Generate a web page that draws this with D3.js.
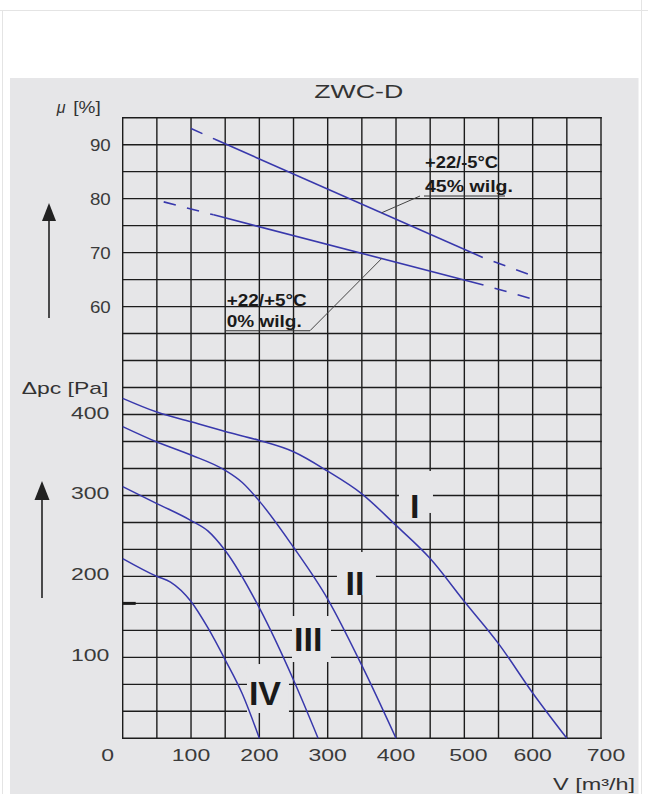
<!DOCTYPE html>
<html><head><meta charset="utf-8">
<script src="https://cdn.jsdelivr.net/npm/d3@7"></script>
<style>html,body{margin:0;padding:0;background:#fff;overflow:hidden}</style>
</head><body>
<svg id="c" width="648" height="794"></svg>
<script>
// ---------- data ----------
const chartTitle = "ZWC-D";
const flowTicks = [0, 100, 200, 300, 400, 500, 600, 700];
const muTicks = [60, 70, 80, 90];
const paTicks = [100, 200, 300, 400];
const curveNames = ["I", "II", "III", "IV"];

const curveIFlow = [0, 50, 100, 150, 200, 250, 300, 350, 400, 450, 500, 550, 600, 650];
const curveIPa   = [420, 403, 391, 379, 368, 354, 330, 302, 263, 222, 169, 117, 56, 0];
const curveIIFlow = [0, 50, 100, 150, 175, 200, 250, 300, 350, 400];
const curveIIPa   = [385, 366, 350, 331, 316, 293, 236, 172, 90, 0];
const curveIIIFlow = [0, 50, 100, 125, 150, 200, 250, 286];
const curveIIIPa   = [311, 290, 269, 256, 232, 161, 72, 0];
const curveIVFlow = [0, 50, 70, 100, 125, 150, 175, 200];
const curveIVPa   = [222, 200, 193, 169, 136, 97, 55, 0];

// efficiency lines (μ %) – vertices; segments between vertices are dashed / solid / dashed
const muWetFlow = [100, 135, 527, 600];
const muWet     = [93.0, 91.0, 69.1, 65.7];
const muDryFlow = [60, 133, 528, 600];
const muDry     = [79.4, 77.0, 64.0, 61.4];
const muSegStyle = ["dashed", "solid", "dashed"];

const noteWet = ["+22/-5°C", "45% wilg."];
const noteDry = ["+22/+5°C", "0% wilg."];

// ---------- layout ----------
const svg = d3.select("#c");
const FONT = "'Liberation Sans', Arial, sans-serif";
const gridTop = 117.7, gridBottom = 738.3, rows = 23;
const x = d3.scaleLinear().domain([0, 700]).range([122.7, 601]);
const yPa = d3.scaleLinear().domain([0, rows * 100 / 3]).range([gridBottom, gridTop]);
const yMu = d3.scaleLinear().domain([-20, 95]).range([gridBottom, gridTop]);

// page frame
svg.append("rect").attr("width", 648).attr("height", 794).attr("fill", "#fff");
svg.append("line").attr("x1", 0).attr("x2", 648).attr("y1", 10.5).attr("y2", 10.5)
  .attr("stroke", "#e4e4e4").attr("stroke-width", 1);
svg.append("line").attr("x1", 2.5).attr("x2", 2.5).attr("y1", 10.5).attr("y2", 794)
  .attr("stroke", "#e4e4e4").attr("stroke-width", 1);
svg.append("line").attr("x1", 641.5).attr("x2", 641.5).attr("y1", 0).attr("y2", 794)
  .attr("stroke", "#e4e4e4").attr("stroke-width", 1);
const PANEL = "#e6e6e8";
svg.append("rect").attr("x", 10).attr("y", 78).attr("width", 628.5).attr("height", 720).attr("fill", PANEL);

// title
svg.append("text").attr("x", 358.7).attr("y", 98.3).attr("text-anchor", "middle")
  .attr("font-family", FONT).attr("font-size", 19).attr("fill", "#333")
  .attr("textLength", 89).attr("lengthAdjust", "spacingAndGlyphs").text(chartTitle);

// grid
const grid = svg.append("g").attr("stroke", "#1c1c1c").attr("stroke-width", 1.4).attr("stroke-linecap", "square");
d3.range(0, 701, 50).forEach(v => {
  grid.append("line").attr("x1", x(v)).attr("x2", x(v)).attr("y1", gridTop).attr("y2", gridBottom);
});
d3.range(0, rows + 1).forEach(r => {
  const yy = yPa(r * 100 / 3);
  grid.append("line").attr("x1", x(0)).attr("x2", x(700)).attr("y1", yy).attr("y2", yy);
});
// small stub mark on left border
svg.append("line").attr("x1", x(0)).attr("x2", x(0) + 13).attr("y1", yPa(500 / 3)).attr("y2", yPa(500 / 3))
  .attr("stroke", "#1c1c1c").attr("stroke-width", 3);

// curve label backgrounds (cover grid)
const labelPos = {
  "I":   {v: 427.3, p: 272.2, box: [-15.7, 18.3, -47, -5]},
  "II":  {v: 339.9, p: 177.0, box: [-18, 21, -43, 0]},
  "III": {v: 271.6, p: 108.2, box: [-16.3, 22.7, -34.7, 11.3]},
  "IV":  {v: 208.2, p: 41.1,  box: [-18, 24, -41, 8]}
};
curveNames.forEach(n => {
  const L = labelPos[n], cx = x(L.v), cy = yPa(L.p);
  svg.append("rect").attr("x", cx + L.box[0]).attr("y", cy + L.box[2])
    .attr("width", L.box[1] - L.box[0]).attr("height", L.box[3] - L.box[2]).attr("fill", PANEL);
});

// pressure curves
const BLUE = "#3838ac";
const lineGen = d3.line().x(d => x(d[0])).y(d => yPa(d[1])).curve(d3.curveMonotoneX);
const curves = [
  d3.zip(curveIFlow, curveIPa), d3.zip(curveIIFlow, curveIIPa),
  d3.zip(curveIIIFlow, curveIIIPa), d3.zip(curveIVFlow, curveIVPa)
];
curves.forEach(c => {
  svg.append("path").attr("d", lineGen(c)).attr("fill", "none")
    .attr("stroke", BLUE).attr("stroke-width", 1.5);
});

// μ lines
const muLine = d3.line().x(d => x(d[0])).y(d => yMu(d[1]));
[[muWetFlow, muWet], [muDryFlow, muDry]].forEach(([fl, mu]) => {
  const pts = d3.zip(fl, mu);
  muSegStyle.forEach((s, i) => {
    const p = svg.append("path").attr("d", muLine([pts[i], pts[i + 1]])).attr("fill", "none")
      .attr("stroke", BLUE).attr("stroke-width", 1.6);
    if (s === "dashed") p.attr("stroke-dasharray", "12.5,11.5").attr("stroke-dashoffset", i === 0 ? 0 : 12.5);
  });
});

// curve labels
curveNames.forEach(n => {
  const L = labelPos[n];
  svg.append("text").attr("x", x(L.v)).attr("y", yPa(L.p)).attr("text-anchor", "middle")
    .attr("font-family", FONT).attr("font-weight", "bold").attr("font-size", 34).attr("fill", "#1a1a1a")
    .text(n);
});

// annotations
function note(lines, tx, by1, by2, w1, w2, ulx2, uly, leadTo) {
  svg.append("text").attr("x", tx).attr("y", by1).attr("font-family", FONT).attr("font-weight", "bold")
    .attr("font-size", 16).attr("fill", "#1a1a1a").attr("textLength", w1).attr("lengthAdjust", "spacingAndGlyphs").text(lines[0]);
  svg.append("text").attr("x", tx).attr("y", by2).attr("font-family", FONT).attr("font-weight", "bold")
    .attr("font-size", 16).attr("fill", "#1a1a1a").attr("textLength", w2).attr("lengthAdjust", "spacingAndGlyphs").text(lines[1]);
  svg.append("line").attr("x1", tx - 1).attr("x2", ulx2).attr("y1", uly).attr("y2", uly)
    .attr("stroke", "#333").attr("stroke-width", 1.1);
  svg.append("line").attr("x1", leadTo[0]).attr("y1", uly).attr("x2", leadTo[1]).attr("y2", leadTo[2])
    .attr("stroke", "#444").attr("stroke-width", 1);
}
note(noteWet, 425, 168.3, 191.7, 73, 88, 505, 196, [420, x(379), yMu(93.0 + (379 - 100) * (69.1 - 93.0) / (527 - 100))]);
note(noteDry, 226.7, 306, 327.3, 80, 75, 310, 330.7, [310, x(379), yMu(77.0 + (379 - 133) * (64.0 - 77.0) / (528 - 133))]);

// axis tick labels
const tickFont = g => g.attr("font-family", FONT).attr("font-size", 17).attr("fill", "#3a3a3a").attr("lengthAdjust", "spacingAndGlyphs");
flowTicks.forEach(v => {
  const s = String(v);
  const dx = v === 0 ? -15 : (v === 700 ? 5 : (v === 500 ? 4 : 0));
  svg.append("text").call(tickFont).attr("x", x(v) + dx).attr("y", 760.7).attr("text-anchor", "middle")
    .attr("textLength", s.length * 12.8).text(s);
});
muTicks.forEach(v => {
  const s = String(v);
  svg.append("text").call(tickFont).attr("x", 110.7).attr("y", yMu(v) + 6).attr("text-anchor", "end")
    .attr("textLength", s.length * 10.4).text(s);
});
paTicks.forEach(v => {
  const s = String(v);
  svg.append("text").call(tickFont).attr("x", 109.3).attr("y", yPa(v) + 4).attr("text-anchor", "end")
    .attr("textLength", s.length * 12.8).text(s);
});

// axis titles
svg.append("text").attr("x", 56.7).attr("y", 113).attr("font-family", FONT).attr("font-size", 16)
  .attr("font-style", "italic").attr("fill", "#333").text("μ");
svg.append("text").attr("x", 73.3).attr("y", 113).attr("font-family", FONT).attr("font-size", 16)
  .attr("fill", "#333").attr("textLength", 27.4).attr("lengthAdjust", "spacingAndGlyphs").text("[%]");
svg.append("text").attr("x", 21.7).attr("y", 394).attr("font-family", FONT).attr("font-size", 17)
  .attr("fill", "#333").attr("textLength", 86.6).attr("lengthAdjust", "spacingAndGlyphs").text("Δpc [Pa]");
svg.append("text").attr("x", 553).attr("y", 790).attr("font-family", FONT).attr("font-size", 16)
  .attr("fill", "#333").attr("textLength", 82).attr("lengthAdjust", "spacingAndGlyphs").text("V [m³/h]");

// arrows
function arrow(ax, yBottom, yTip, hw, hh) {
  svg.append("line").attr("x1", ax).attr("x2", ax).attr("y1", yBottom).attr("y2", yTip + hh - 2)
    .attr("stroke", "#222").attr("stroke-width", 1.6);
  svg.append("path").attr("d", `M${ax},${yTip} L${ax - hw / 2},${yTip + hh} L${ax + hw / 2},${yTip + hh} Z`)
    .attr("fill", "#222");
}
arrow(49, 318, 203, 14, 18);
arrow(42, 598, 481, 15, 19);
</script>
</body></html>
